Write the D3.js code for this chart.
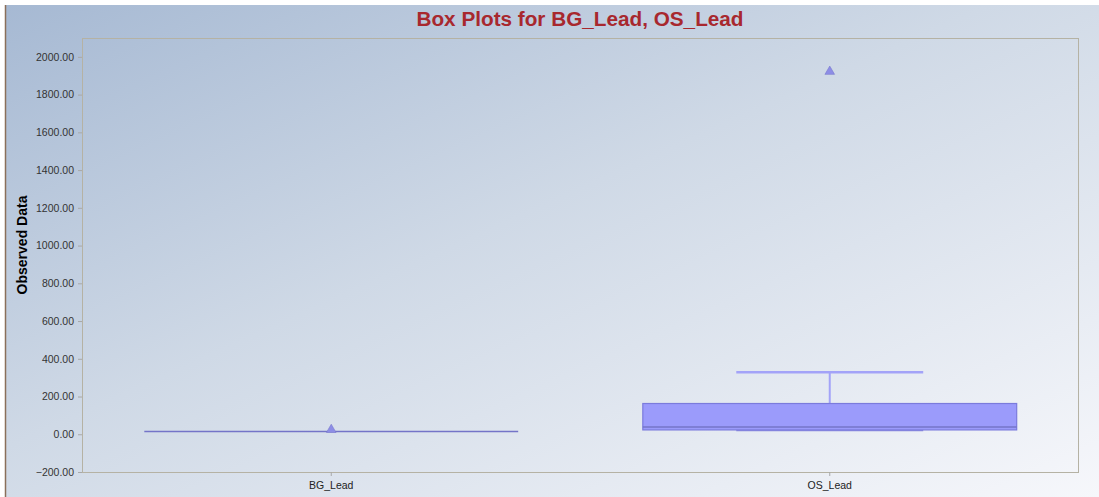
<!DOCTYPE html>
<html>
<head>
<meta charset="utf-8">
<script src="https://cdn.jsdelivr.net/npm/d3@7"></script>
<style>
  body { margin: 0; background: #fff; }
  svg { display: block; font-family: "Liberation Sans", Arial, sans-serif; }
</style>
</head>
<body>
<svg id="chart" width="1099" height="497"></svg>
<script>
const categories = ['BG_Lead', 'OS_Lead'];
const q1Values = [14, 23];
const medianValues = [14, 39];
const q3Values = [14, 163];
const lowWhisker = [14, 21];
const highWhisker = [14, 329];
const meanValues = [24, 1922];
const yTicks = [-200, 0, 200, 400, 600, 800, 1000, 1200, 1400, 1600, 1800, 2000];

const svg = d3.select('#chart');
const width = +svg.attr('width');
const height = +svg.attr('height');
const margin = { top: 38, right: 20, bottom: 25, left: 82 };

const defs = svg.append('defs');
const grad = defs.append('linearGradient').attr('id', 'bg')
  .attr('x1', '0%').attr('y1', '0%').attr('x2', '100%').attr('y2', '100%');
grad.append('stop').attr('offset', '0%').attr('stop-color', '#a6b9d3');
grad.append('stop').attr('offset', '45%').attr('stop-color', '#cfd9e6');
grad.append('stop').attr('offset', '100%').attr('stop-color', '#f6f7fb');

svg.append('rect').attr('x', 5).attr('y', 5).attr('width', width - 5).attr('height', height - 5).attr('fill', 'url(#bg)');
svg.append('line').attr('x1', 5.5).attr('x2', 5.5).attr('y1', 5).attr('y2', height).attr('stroke', '#8a6f5a').attr('stroke-width', 1.5);

const x = d3.scaleBand().domain(categories).range([margin.left, width - margin.right]);
const y = d3.scaleLinear().domain([-200, 2100]).range([height - margin.bottom, margin.top]);

svg.append('rect')
  .attr('x', margin.left + 0.5).attr('y', margin.top + 0.5)
  .attr('width', width - margin.right - margin.left - 1)
  .attr('height', height - margin.bottom - margin.top)
  .attr('fill', 'none').attr('stroke', '#b5b2a4');

const yAxis = svg.append('g').attr('transform', `translate(${margin.left},0)`)
  .call(d3.axisLeft(y).tickValues(yTicks).tickFormat(d3.format('.2f')).tickSize(4).tickPadding(4));
yAxis.select('.domain').remove();
yAxis.selectAll('line').attr('stroke', '#a8a8a8');
yAxis.selectAll('text').attr('font-size', 10.5).attr('fill', '#333').attr('font-family', '"Liberation Sans", Arial, sans-serif');

const xAxis = svg.append('g').attr('transform', `translate(0,${height - margin.bottom})`)
  .call(d3.axisBottom(x).tickSize(4).tickPadding(6));
xAxis.select('.domain').remove();
xAxis.selectAll('line').attr('stroke', '#a8a8a8');
xAxis.selectAll('text').attr('font-size', 10.5).attr('fill', '#222').attr('font-family', '"Liberation Sans", Arial, sans-serif');

svg.append('text').attr('x', 580).attr('y', 26).attr('text-anchor', 'middle')
  .attr('font-size', 20).attr('font-weight', 'bold').attr('fill', '#a8282e')
  .attr('textLength', 327).attr('lengthAdjust', 'spacingAndGlyphs')
  .text('Box Plots for BG_Lead, OS_Lead');

svg.append('text').attr('transform', 'translate(27,245) rotate(-90)').attr('text-anchor', 'middle')
  .attr('font-size', 14).attr('font-weight', 'bold').attr('fill', '#000')
  .text('Observed Data');

const boxW = x.bandwidth() * 0.75;
const capW = x.bandwidth() * 0.375;
const data = categories.map((c, i) => ({
  name: c, q1: q1Values[i], med: medianValues[i], q3: q3Values[i],
  lo: lowWhisker[i], hi: highWhisker[i], mean: meanValues[i]
}));

const g = svg.selectAll('.box').data(data).enter().append('g').attr('class', 'box')
  .attr('transform', d => `translate(${x(d.name) + x.bandwidth() / 2},0)`);

// whiskers (skipped when they collapse onto the box)
g.filter(d => d.hi > d.q3).append('line').attr('x1', 0).attr('x2', 0).attr('y1', d => y(d.hi)).attr('y2', d => y(d.q3))
  .attr('stroke', '#a3a3f8').attr('stroke-width', 2);
g.filter(d => d.hi > d.q3).append('line').attr('x1', -capW / 2).attr('x2', capW / 2).attr('y1', d => y(d.hi)).attr('y2', d => y(d.hi))
  .attr('stroke', '#a3a3f8').attr('stroke-width', 2.5);
g.filter(d => d.lo < d.q1).append('line').attr('x1', -capW / 2).attr('x2', capW / 2).attr('y1', d => y(d.lo)).attr('y2', d => y(d.lo))
  .attr('stroke', '#8c8ce0').attr('stroke-width', 2);

// box
g.append('rect').attr('x', -boxW / 2).attr('width', boxW)
  .attr('y', d => y(d.q3)).attr('height', d => Math.max(0.1, y(d.q1) - y(d.q3)))
  .attr('fill', '#9b9bfb').attr('stroke', '#7b7bdc').attr('stroke-width', d => d.q3 > d.q1 ? 1.2 : 0);
g.append('line').attr('x1', -boxW / 2).attr('x2', boxW / 2).attr('y1', d => y(d.med)).attr('y2', d => y(d.med))
  .attr('stroke', '#7474c8').attr('stroke-width', 1.5);

// mean marker
g.append('path').attr('d', d3.symbol().type(d3.symbolTriangle).size(40))
  .attr('transform', d => `translate(0,${y(d.mean)})`)
  .attr('fill', '#8d8de6').attr('stroke', '#7878cc').attr('stroke-width', 0.6);
</script>
</body>
</html>
